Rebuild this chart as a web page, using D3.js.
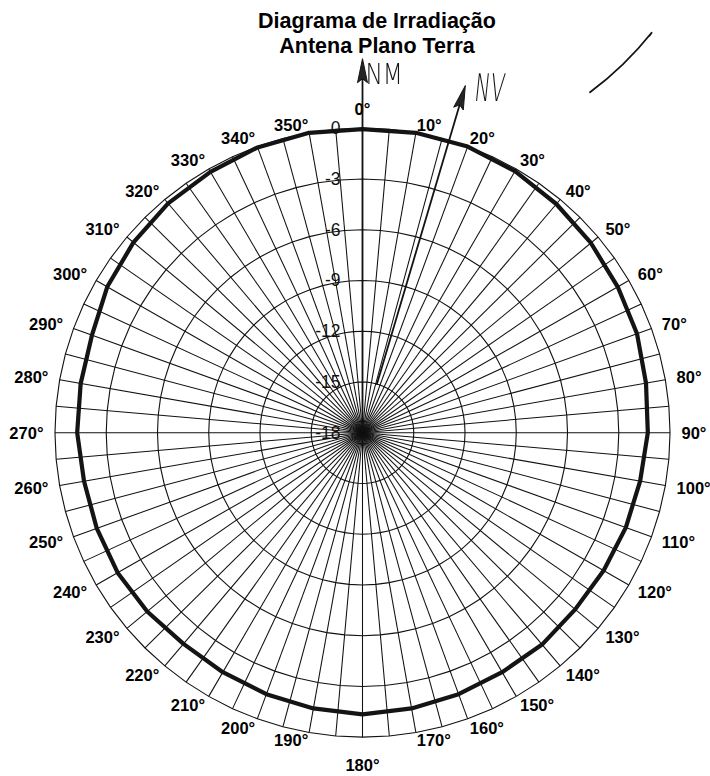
<!DOCTYPE html>
<html>
<head>
<meta charset="utf-8">
<script src="https://cdn.jsdelivr.net/npm/d3@7"></script>
<style>
  body { margin: 0; background: #fff; }
  svg { display: block; }
</style>
</head>
<body>
<div id="chart"></div>
<script>
// title lines
const titleLines = ['Diagrama de Irradiação', 'Antena Plano Terra'];
// direction of each measurement (degrees)
const angles = [0, 10, 20, 30, 40, 50, 60, 70, 80, 90, 100, 110, 120, 130, 140, 150, 160, 170,
  180, 190, 200, 210, 220, 230, 240, 250, 260, 270, 280, 290, 300, 310, 320, 330, 340, 350];
// relative field (dB)
const gainDb = [-0.05, 0, 0, -0.15, -0.35, -0.55, -0.75, -0.9, -1.15, -1.3, -1.5, -1.6, -1.7, -1.75, -1.65, -1.65, -1.55, -1.45,
  -1.35, -1.45, -1.55, -1.65, -1.7, -1.55, -1.45, -1.45, -1.45, -1.3, -1.25, -1.15, -0.75, -0.5, -0.3, -0.2, -0.05, 0];
// angle labels around the chart
const angleTicks = [0, 10, 20, 30, 40, 50, 60, 70, 80, 90, 100, 110, 120, 130, 140, 150, 160, 170,
  180, 190, 200, 210, 220, 230, 240, 250, 260, 270, 280, 290, 300, 310, 320, 330, 340, 350];
// radial scale ticks (dB)
const dbTicks = [0, -3, -6, -9, -12, -15, -18];
// hand written notes on the scan: north arrows (angle, from r, to r)
const arrows = [
  { name: 'NM', angle: 0, r0: 0, r1: 374 },
  { name: 'NV', angle: 16.5, r0: 50, r1: 362 }
];

function main() {
  const width = 710;
  const height = 776;
  const cx = 362.5; // centre of the diagram
  const cy = 432.7;
  const outerR = 306;
  const toRad = d => d * Math.PI / 180;
  const r = d3.scaleLinear().domain([-18, 0]).range([0, outerR]);
  const spokeAngles = d3.range(0, 360, 5); // category axes every 5 degrees

  const svg = d3.select('#chart')
    .append('svg')
    .attr('width', width)
    .attr('height', height)
    .style('font-family', "'Liberation Sans', Arial, sans-serif");

  // title
  svg.append('g')
    .selectAll('text')
    .data(titleLines)
    .join('text')
    .attr('x', 377)
    .attr('y', (d, i) => 28 + i * 24.5)
    .attr('text-anchor', 'middle')
    .attr('font-size', 21.5)
    .attr('font-weight', 'bold')
    .text(d => d);

  // scanned chart is a hair wider than tall
  const plot = svg.append('g')
    .attr('transform', `translate(${cx},${cy}) scale(1.005,0.995)`);

  // rings: 72 sided polygons like the spreadsheet radar grid
  const ring = d3.lineRadial()
    .angle(d => toRad(d))
    .curve(d3.curveLinearClosed);
  plot.append('g')
    .selectAll('path')
    .data(dbTicks.filter(d => d > -18))
    .join('path')
    .attr('d', db => ring.radius(r(db))(spokeAngles))
    .attr('fill', 'none')
    .attr('stroke', '#111')
    .attr('stroke-width', 1.1);

  // spokes
  plot.append('g')
    .selectAll('line')
    .data(spokeAngles)
    .join('line')
    .attr('x1', 0)
    .attr('y1', 0)
    .attr('x2', d => r(0) * Math.sin(toRad(d)))
    .attr('y2', d => -r(0) * Math.cos(toRad(d)))
    .attr('stroke', '#111')
    .attr('stroke-width', 1.05);

  // radiation pattern
  const pattern = d3.lineRadial()
    .angle(i => toRad(angles[i]))
    .radius(i => r(gainDb[i]))
    .curve(d3.curveLinearClosed);
  plot.append('path')
    .attr('d', pattern(d3.range(angles.length)))
    .attr('fill', 'none')
    .attr('stroke', '#141414')
    .attr('stroke-width', 4.2)
    .attr('stroke-linejoin', 'round');

  // radial tick labels beside the vertical axis
  svg.append('g')
    .selectAll('text')
    .data(dbTicks)
    .join('text')
    .attr('x', cx - 22)
    .attr('y', d => cy - r(d) * 0.995)
    .attr('text-anchor', 'end')
    .attr('dominant-baseline', 'central')
    .attr('font-size', 17.5)
    .attr('fill', '#111')
    .text(d => String(d));

  // angle labels
  function labelPos(a) {
    const s = Math.sin(toRad(a));
    const c = Math.cos(toRad(a));
    if (Math.abs(s) < 0.01) {
      const rl = c > 0 ? outerR + 18 : outerR + 26;
      return { x: cx, y: cy - rl * c, anchor: 'middle' };
    }
    const rl = outerR + 5 + 8 * Math.abs(s);
    return { x: cx + rl * s, y: cy - rl * c, anchor: s > 0 ? 'start' : 'end' };
  }
  svg.append('g')
    .selectAll('text')
    .data(angleTicks)
    .join('text')
    .each(function (d) {
      const p = labelPos(d);
      d3.select(this)
        .attr('x', p.x)
        .attr('y', p.y)
        .attr('text-anchor', p.anchor);
    })
    .attr('dominant-baseline', 'central')
    .attr('font-size', 16.5)
    .attr('font-weight', 'bold')
    .text(d => `${d}°`);

  // hand drawn north arrows
  const notes = svg.append('g')
    .attr('transform', `translate(${cx},${cy})`)
    .style('opacity', 0.99);
  arrows.forEach(a => {
    const s = Math.sin(toRad(a.angle));
    const c = Math.cos(toRad(a.angle));
    notes.append('line')
      .attr('x1', a.r0 * s)
      .attr('y1', -a.r0 * c)
      .attr('x2', (a.r1 - 10) * s)
      .attr('y2', -(a.r1 - 10) * c)
      .attr('stroke', '#111')
      .attr('stroke-width', 1.8);
    const tip = [a.r1 * s, -a.r1 * c];
    const base = a.r1 - 24;
    const head = [
      tip,
      [base * s - 5 * c, -base * c - 5 * s],
      [(base + 4) * s, -(base + 4) * c],
      [base * s + 5 * c, -base * c + 5 * s]
    ];
    notes.append('path')
      .attr('d', d3.line()(head) + 'Z')
      .attr('fill', '#222')
      .attr('stroke', '#111')
      .attr('stroke-width', 1);
  });
  // NM / NV letters
  notes.append('text')
    .attr('transform', 'translate(3,-349) scale(0.8,1)')
    .attr('font-family', "'DejaVu Sans', sans-serif")
    .attr('font-weight', 200)
    .attr('font-size', 29)
    .attr('fill', '#111')
    .text('NM');
  notes.append('text')
    .attr('transform', 'translate(111,-332) skewX(-6) scale(0.55,1)')
    .attr('font-family', "'DejaVu Sans', sans-serif")
    .attr('font-weight', 200)
    .attr('font-size', 38)
    .attr('fill', '#111')
    .text('NV');

  // stray pen stroke at the top right of the scan
  const pen = d3.path();
  pen.moveTo(227.5, -340.5);
  pen.quadraticCurveTo(262, -366, 289.5, -400.5);
  pen.lineTo(287, -397);
  notes.append('path')
    .attr('d', pen.toString())
    .attr('fill', 'none')
    .attr('stroke', '#111')
    .attr('stroke-width', 1.8)
    .attr('stroke-linecap', 'round');
}

main();
</script>
</body>
</html>
